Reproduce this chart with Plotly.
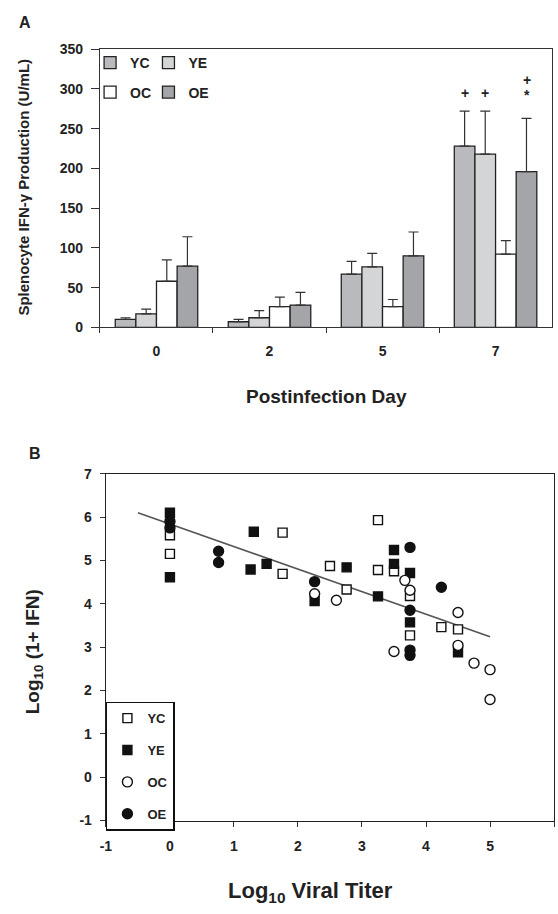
import plotly.graph_objects as go

W, H = 558, 914
FONT = "Liberation Sans, Arial, sans-serif"

# ---------- Panel A data ----------
days = ["0", "2", "5", "7"]
groups = ["YC", "YE", "OC", "OE"]
ifn_mean = {
    "YC": [10, 7, 67, 228],
    "YE": [17, 12, 76, 218],
    "OC": [58, 26, 26, 92],
    "OE": [77, 28, 90, 196],
}
ifn_err = {
    "YC": [2, 3, 16, 44],
    "YE": [6, 9, 17, 54],
    "OC": [27, 12, 9, 17],
    "OE": [37, 16, 30, 67],
}
bar_colors = {"YC": "#b9babe", "YE": "#d4d5d7", "OC": "#ffffff", "OE": "#a4a5a9"}
yA_ticks = [0, 50, 100, 150, 200, 250, 300, 350]

# significance marks: (day, group, text, y)
sig_marks = [("7", "YC", "+", 295), ("7", "YE", "+", 295),
             ("7", "OE", "+", 311), ("7", "OE", "*", 292)]

# ---------- Panel B data ----------
yc_x = [0, 0, 1.76, 1.76, 2.5, 2.76, 3.25, 3.25, 3.5, 3.75, 3.75, 4.24, 4.5]
yc_y = [5.58, 5.15, 5.64, 4.69, 4.87, 4.33, 5.93, 4.78, 4.75, 4.18, 3.27, 3.46, 3.41]
ye_x = [0, 0, 1.26, 1.31, 1.51, 2.26, 2.76, 3.25, 3.5, 3.5, 3.75, 3.75, 4.5]
ye_y = [6.10, 4.61, 4.79, 5.66, 4.92, 4.06, 4.84, 4.17, 5.24, 4.92, 4.71, 3.57, 2.88]
oc_x = [2.26, 2.6, 3.5, 3.67, 3.75, 4.5, 4.5, 4.75, 5.0, 5.0]
oc_y = [4.23, 4.08, 2.90, 4.54, 4.31, 3.80, 3.04, 2.63, 2.48, 1.79]
oe_x = [0, 0, 0.76, 0.76, 2.26, 3.75, 3.75, 3.75, 3.75, 4.24]
oe_y = [5.90, 5.75, 5.21, 4.95, 4.51, 5.30, 3.85, 2.93, 2.81, 4.38]
fit_x = [-0.5, 5.0]
fit_y = [6.10, 3.24]
xB_ticks = [-1, 0, 1, 2, 3, 4, 5, 6]
xB_labels = ["-1", "0", "1", "2", "3", "4", "5", "6"]
yB_ticks = [-1, 0, 1, 2, 3, 4, 5, 6, 7]
yB_labels = ["-1", "0", "1", "2", "3", "4", "5", "6", "7"]

fig = go.Figure()

legend_names = ["legend", "legend2", "legend3", "legend4"]
for g, lg in zip(groups, legend_names):
    fig.add_trace(go.Bar(
        x=days, y=ifn_mean[g], name=g, legend=lg,
        marker=dict(color=bar_colors[g], line=dict(color="#222", width=1.3)),
        error_y=dict(type="data", array=ifn_err[g], arrayminus=[0] * 4,
                     symmetric=False, color="#333", thickness=1.2, width=5),
        xaxis="x", yaxis="y",
    ))

offsets = {"YC": -31, "YE": -10.4, "OC": 10.4, "OE": 31}
annotations = []
for d, g, t, yv in sig_marks:
    annotations.append(dict(x=days.index(d), y=yv, xref="x", yref="y", text=t, showarrow=False,
                            xshift=offsets[g], xanchor="center", yanchor="middle",
                            font=dict(size=14, family=FONT, color="#222", weight="bold")))

# Panel B traces
mk = 9
fig.add_trace(go.Scatter(x=fit_x, y=fit_y, mode="lines", line=dict(color="#555", width=1.6),
                         showlegend=False, xaxis="x2", yaxis="y2"))
fig.add_trace(go.Scatter(x=yc_x, y=yc_y, mode="markers", name="YC", legend="legend5", legendgroup="b1",
                         marker=dict(symbol="square", size=mk, color="white", line=dict(color="#111", width=1.4)),
                         xaxis="x2", yaxis="y2"))
fig.add_trace(go.Scatter(x=ye_x, y=ye_y, mode="markers", name="YE", legend="legend5", legendgroup="b2",
                         marker=dict(symbol="square", size=mk, color="#111", line=dict(color="#111", width=1.4)),
                         xaxis="x2", yaxis="y2"))
fig.add_trace(go.Scatter(x=oc_x, y=oc_y, mode="markers", name="OC", legend="legend5", legendgroup="b3",
                         marker=dict(symbol="circle", size=mk + 1, color="white", line=dict(color="#111", width=1.4)),
                         xaxis="x2", yaxis="y2"))
fig.add_trace(go.Scatter(x=oe_x, y=oe_y, mode="markers", name="OE", legend="legend5", legendgroup="b4",
                         marker=dict(symbol="circle", size=mk + 1, color="#111", line=dict(color="#111", width=1.4)),
                         xaxis="x2", yaxis="y2"))

def px_x(p):
    return p / W

def px_y(p):
    return 1 - p / H

def lab(xp, yp, text, size, angle=0):
    return dict(x=px_x(xp), y=px_y(yp), xref="paper", yref="paper", text=text, showarrow=False,
                xanchor="center", yanchor="middle", textangle=angle,
                font=dict(size=size, family=FONT, weight="bold", color="#222"))

# Axis titles and panel labels
annotations += [
    lab(19, 15, "A", 16),
    lab(29, 453, "B", 16),
    lab(18, 182, "Splenocyte IFN-γ Production (U/mL)", 15, -90),
    lab(324, 395, "Postinfection Day", 19),
    lab(28, 655, "Log<sub>10</sub> (1+ IFN)", 19, -90),
    lab(308, 900, "Log<sub>10</sub> Viral Titer", 22),
]

tickfontA = dict(size=14, family=FONT, weight="bold", color="#222")
tickfontB = dict(size=14, family=FONT, weight="bold", color="#222")

legA_font = dict(size=14, family=FONT, weight="bold", color="#222")
def legA(xp, yp):
    return dict(x=px_x(xp), y=px_y(yp), xanchor="left", yanchor="middle", bgcolor="rgba(0,0,0,0)",
                font=legA_font, borderwidth=0)

fig.update_layout(
    width=W, height=H,
    margin=dict(l=0, r=0, t=0, b=0),
    paper_bgcolor="white", plot_bgcolor="white",
    font=dict(family=FONT, color="#222"),
    barmode="group", bargap=0.27, bargroupgap=0,
    xaxis=dict(domain=[px_x(95), px_x(552)], type="category", categoryorder="array", categoryarray=days,
               range=[-0.5, 3.5], showline=True, linecolor="#333", linewidth=1.2, mirror=True,
               ticks="outside", tickson="boundaries", ticklen=5, tickcolor="#333",
               tickfont=tickfontA, ticklabelstandoff=11, showgrid=False, zeroline=False, anchor="y"),
    yaxis=dict(domain=[px_y(325), px_y(42)], range=[0, 350], tickvals=yA_ticks, showline=True, linecolor="#333",
               linewidth=1.2, mirror=True, ticks="outside", ticklen=8, tickcolor="#333",
               tickfont=tickfontA, ticklabelstandoff=5, showgrid=False, zeroline=False, anchor="x"),
    xaxis2=dict(domain=[px_x(101), px_x(554)], range=[-1, 6], tickvals=xB_ticks, ticktext=xB_labels,
                showline=True, linecolor="#222",
                linewidth=1.4, mirror=True, ticks="outside", ticklen=5, tickcolor="#333",
                tickfont=tickfontB, ticklabelstandoff=7, showgrid=False, zeroline=False, anchor="y2"),
    yaxis2=dict(domain=[px_y(827), px_y(474)], range=[-1, 7], tickvals=yB_ticks, ticktext=yB_labels,
                showline=True, linecolor="#222",
                linewidth=1.4, mirror=True, ticks="outside", ticklen=5, tickcolor="#333",
                tickfont=tickfontB, ticklabelstandoff=5, showgrid=False, zeroline=False, anchor="x2"),
    legend=legA(85, 56),
    legend2=legA(144, 56),
    legend3=legA(85, 86),
    legend4=legA(144, 86),
    legend5=dict(x=px_x(101), y=px_y(706), xanchor="left", yanchor="top", bgcolor="white",
                 bordercolor="#111", borderwidth=1.5, tracegroupgap=12,
                 font=dict(size=13, family=FONT, weight="bold", color="#222")),
    annotations=annotations,
    showlegend=True,
)

fig.write_html("out.html")
